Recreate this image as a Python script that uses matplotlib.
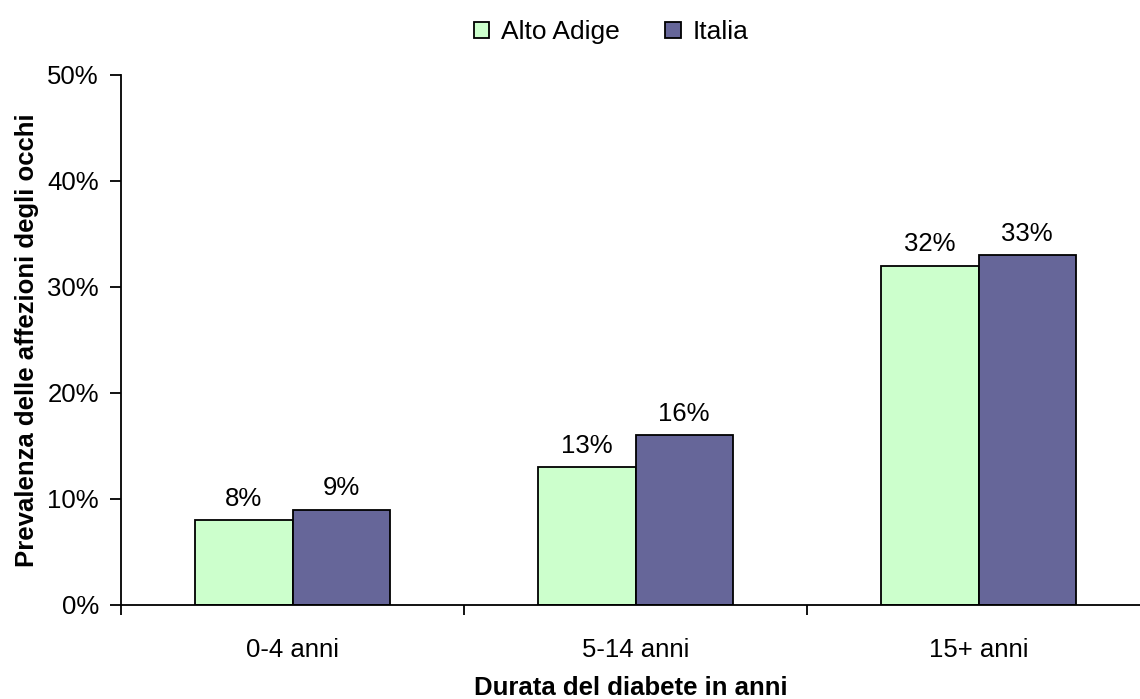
import matplotlib.pyplot as plt
import numpy as np

plt.rcParams['font.family'] = ['Liberation Sans', 'DejaVu Sans']

categories = ['0-4 anni', '5-14 anni', '15+ anni']
alto_adige = [8, 13, 32]
italia = [9, 16, 33]
series_names = ['Alto Adige', 'Italia']

FS = 18.5

fig = plt.figure(figsize=(11.4, 6.99), dpi=100)
ax = fig.add_axes([121 / 1140, 1 - 605 / 699, (1140 - 121) / 1140, (605 - 75) / 699])

x = np.arange(len(categories))
w = 0.283
b1 = ax.bar(x - w / 2, alto_adige, w, color='#CCFFCC', edgecolor='black', linewidth=1.3, label=series_names[0])
b2 = ax.bar(x + w / 2, italia, w, color='#666699', edgecolor='black', linewidth=1.3, label=series_names[1])

for bars, vals in ((b1, alto_adige), (b2, italia)):
    for r, v in zip(bars, vals):
        ax.text(r.get_x() + r.get_width() / 2, v + 0.9, f'{v}%', ha='center', va='bottom', fontsize=FS)

ax.set_yticks(np.arange(0, 51, 10))
ax.set_yticklabels([f'{t}%' for t in range(0, 51, 10)], fontsize=FS)
ax.set_xticks(x)
ax.set_xticklabels(categories, fontsize=FS)
ax.set_xticks([-0.5, 0.5, 1.5], minor=True)
# limits after the ticks so set_xticks does not widen the view
ax.set_ylim(0, 50)
ax.set_xlim(-0.5, -0.5 + 1019 / 343)
ax.tick_params(axis='x', which='major', length=0, pad=24)
ax.tick_params(axis='x', which='minor', length=7, width=1.3, direction='out')
ax.tick_params(axis='y', length=8, width=1.3, direction='out', pad=8)

for s in ('top', 'right'):
    ax.spines[s].set_visible(False)
for s in ('left', 'bottom'):
    ax.spines[s].set_linewidth(1.3)

ax.set_xlabel('Durata del diabete in anni', fontsize=FS, fontweight='bold', labelpad=10)
ax.set_ylabel('Prevalenza delle affezioni degli occhi', fontsize=FS, fontweight='bold', labelpad=6)

fig.legend(loc='upper center', bbox_to_anchor=(0.536, 1.005), ncol=2, frameon=False, fontsize=19,
           handlelength=0.6, handleheight=0.6, handletextpad=0.45, columnspacing=1.7)

fig.savefig('out.png', dpi=100)
